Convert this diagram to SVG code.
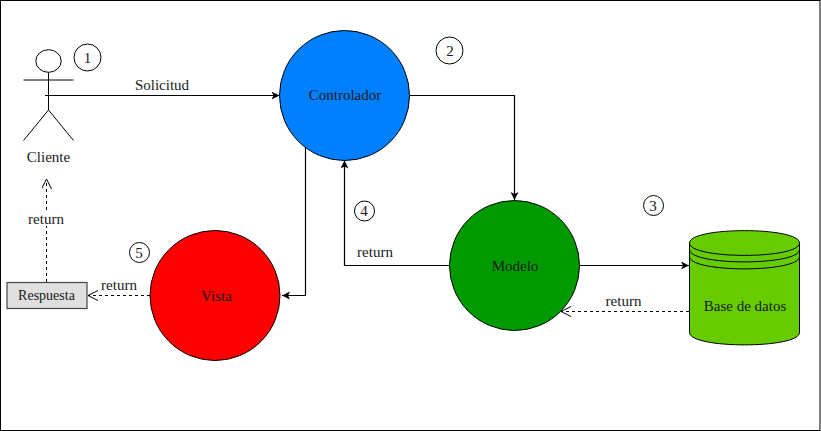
<svg xmlns="http://www.w3.org/2000/svg" width="821" height="431" viewBox="0 0 821 431">
<style>
text{font-family:"Liberation Serif","Times New Roman",serif;font-size:15px;fill:#1a1a1a;text-anchor:middle}
.node{stroke:#000;stroke-width:1}
.thin{fill:#fff;stroke:#000;stroke-width:1}
.solid{fill:none;stroke:#000;stroke-width:1.2;marker-end:url(#block)}
.dash{fill:none;stroke:#000;stroke-width:1;stroke-dasharray:3 3;marker-end:url(#open)}
.actor{fill:none;stroke:#000;stroke-width:1}
.lab{fill:#fff;stroke:none}
</style>
<defs>
<marker id="block" markerUnits="userSpaceOnUse" markerWidth="10" markerHeight="10" refX="8" refY="4" orient="auto"><path d="M0 0L8 4L0 8L2 4Z" fill="#000"/></marker>
<marker id="open" markerUnits="userSpaceOnUse" markerWidth="12" markerHeight="12" refX="10" refY="5" orient="auto"><path d="M0 0L10 5L0 10" fill="none" stroke="#000" stroke-width="1"/></marker>
</defs>
<rect x="0.5" y="0.5" width="819.5" height="430" fill="#fff" stroke="#000"/>
<g id="connectors">
<path class="solid" d="M45 95.5H279.5"/>
<path class="solid" d="M410 95.5H514.5V200"/>
<path class="solid" d="M580 265.5H689"/>
<path class="solid" d="M450 265.5H344.5V160.5"/>
<path class="solid" d="M305.5 147V295.5H282"/>
<path class="dash" d="M689 311.5H561"/>
<path class="dash" d="M150 295.5H88"/>
<path class="dash" d="M46.5 282V179"/>
<rect class="lab" x="27" y="212" width="38" height="14"/>
<text x="46" y="224">return</text>
<text x="162" y="90">Solicitud</text>
<text x="375" y="257">return</text>
<text x="623.5" y="306">return</text>
<text x="119" y="290">return</text>
</g>
<g id="cliente">
<ellipse class="actor" cx="48.5" cy="61" rx="12.7" ry="11.3"/>
<path class="actor" d="M48.5 72.5V110M23.5 80H73.5M23.5 140.5L48.5 110L73.5 140.5"/>
<text x="48.5" y="162">Cliente</text>
</g>
<g id="controlador"><circle class="node" cx="344.5" cy="95.5" r="65" fill="#007fff"/><text x="345" y="100">Controlador</text></g>
<g id="modelo"><circle class="node" cx="514.5" cy="265.5" r="65" fill="#009900"/><text x="515" y="271">Modelo</text></g>
<g id="vista"><circle class="node" cx="215" cy="295.5" r="65" fill="#ff0000"/><text x="216.500" y="301">Vista</text></g>
<g id="base-de-datos">
<path class="node" fill="#66cc00" d="M689.5 243C689.5 226.5 799.5 226.5 799.5 243V332.5C799.5 349 689.5 349 689.5 332.5Z"/>
<path fill="none" stroke="#000" d="M689.5 243C689.5 259.5 799.5 259.5 799.5 243M689.5 249.5C689.5 266 799.5 266 799.5 249.5M689.5 256.5C689.5 273 799.5 273 799.5 256.5"/>
<text x="745" y="311">Base de datos</text>
</g>
<g id="respuesta"><rect x="7" y="282.5" width="80" height="26" fill="#e0e0e0" stroke="#444" stroke-width="1.2"/><text x="46.5" y="300" style="font-size:14px">Respuesta</text></g>
<g id="n1"><circle class="thin" cx="87.5" cy="57.5" r="13.5"/><text x="87.5" y="63">1</text></g>
<g id="n2"><circle class="thin" cx="449.5" cy="50.5" r="13.5"/><text x="450" y="56">2</text></g>
<g id="n3"><circle class="thin" cx="653.5" cy="205.5" r="10"/><text x="653" y="210.5">3</text></g>
<g id="n4"><circle class="thin" cx="364.5" cy="211" r="10"/><text x="364" y="216">4</text></g>
<g id="n5"><circle class="thin" cx="139.5" cy="252.5" r="10"/><text x="139" y="257.5">5</text></g>
</svg>
